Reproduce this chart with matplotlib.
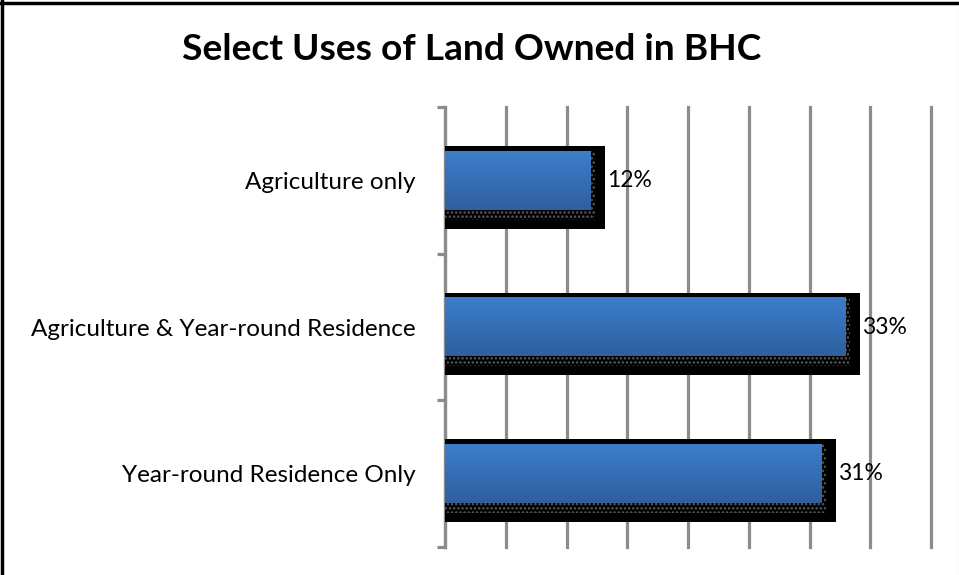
import numpy as np
import matplotlib
matplotlib.use("Agg")
import matplotlib.pyplot as plt
from matplotlib.patches import Rectangle
from matplotlib.lines import Line2D
from matplotlib.colors import LinearSegmentedColormap

categories = ["Agriculture only",
              "Agriculture & Year-round Residence",
              "Year-round Residence Only"]
values = [12, 33, 31]
title = "Select Uses of Land Owned in BHC"

plt.rcParams["font.family"] = ["Lato", "DejaVu Sans"]
plt.rcParams["hatch.linewidth"] = 1.2

W, H, DPI = 959, 575, 100
fig = plt.figure(figsize=(W / DPI, H / DPI), dpi=DPI)
ax = fig.add_axes([445 / W, 28 / H, (931 - 445) / W, (547 - 107) / H])

grid_c = "#8c8c8c"
bar_h = 0.40
px_x = 40 / (931 - 445)          # data units per pixel (x)
px_y = 3 / (547 - 107)           # data units per pixel (y)

blue_map = LinearSegmentedColormap.from_list("bar", ["#3b7ecb", "#2f5f9f"])
grad = np.linspace(0, 1, 64).reshape(-1, 1)

for i, v in enumerate(values):
    top = i - bar_h / 2
    bot = i + bar_h / 2
    # black drop shadow
    ax.add_patch(Rectangle((0, top - 5 * px_y), v + 14 * px_x,
                           (bot - top) + 24 * px_y, facecolor="black",
                           edgecolor="none", zorder=3))
    # dotted soft edge of the shadow
    ax.add_patch(Rectangle((0, top), v + 4 * px_x, (bot - top) + 10 * px_y,
                           facecolor="black", edgecolor="#5c5c5c",
                           hatch="....", linewidth=0, zorder=4))
    # gradient-filled bar
    ax.imshow(grad, cmap=blue_map, aspect="auto", interpolation="bilinear",
              extent=(0, v, bot, top), zorder=5)
    ax.text(v + 16 * px_x, i, f"{v}%", va="center", ha="left",
            fontsize=16.5, color="black", zorder=6)

ax.set_xlim(0, 40)
ax.set_ylim(len(categories) - 0.5, -0.5)

ax.set_xticks(np.arange(0, 41, 5))
ax.tick_params(axis="x", length=0, labelbottom=False)
ax.grid(axis="x", color=grid_c, linewidth=2.3, zorder=1)
for gl in ax.get_xgridlines():
    gl.set_clip_on(False)
ax.set_axisbelow(True)

ax.set_yticks(np.arange(-0.5, len(categories), 1.0))
ax.set_yticklabels([])
ax.tick_params(axis="y", which="major", direction="out", length=6,
               width=2.3, color=grid_c)
ax.set_yticks(range(len(categories)), minor=True)
ax.set_yticklabels(categories, minor=True, fontsize=17.5)
ax.tick_params(axis="y", which="minor", length=0, pad=21)

for s in ["top", "right", "bottom"]:
    ax.spines[s].set_visible(False)
ax.spines["left"].set_color(grid_c)
ax.spines["left"].set_linewidth(2.3)

fig.text(472 / W, 1 - 50 / H, title, ha="center", va="center",
         fontsize=26.7, fontweight="bold")

# chart frame edges
fig.add_artist(Line2D([0, 1], [1 - 2.5 / H, 1 - 2.5 / H], color="black",
                      linewidth=2.5, transform=fig.transFigure))
fig.add_artist(Line2D([1.5 / W, 1.5 / W], [0, 1], color="black",
                      linewidth=2.5, transform=fig.transFigure))
fig.add_artist(Line2D([1 - 0.5 / W, 1 - 0.5 / W], [0, 1], color="#e8e8e8",
                      linewidth=0.8, transform=fig.transFigure))

fig.savefig("out.png", dpi=DPI)
